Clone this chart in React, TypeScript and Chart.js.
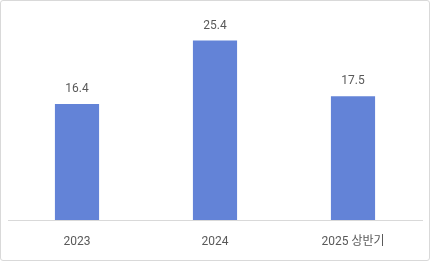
import React, { useEffect, useRef } from "react";
import { Chart, registerables } from "chart.js";

Chart.register(...registerables);

const categories = ["2023", "2024", "2025 상반기"];
const values = [16.4, 25.4, 17.5];
const valueLabels = ["16.4", "25.4", "17.5"];

const FONT = "Roboto, 'Noto Sans CJK KR', sans-serif";

const valueLabelPlugin = {
  id: "valueLabels",
  afterDatasetsDraw(chart: any) {
    const ctx = chart.ctx;
    const meta = chart.getDatasetMeta(0);
    ctx.save();
    ctx.font = `12px ${FONT}`;
    ctx.fillStyle = "#595959";
    ctx.textAlign = "center";
    ctx.textBaseline = "middle";
    meta.data.forEach((bar: any, i: number) => {
      ctx.fillText(valueLabels[i], bar.x, bar.y - 15);
    });
    ctx.restore();
  },
};

export default function App() {
  const ref = useRef<HTMLCanvasElement | null>(null);

  useEffect(() => {
    document.body.style.margin = "0";
    if (!ref.current) return;
    const chart = new Chart(ref.current, {
      type: "bar",
      data: {
        labels: categories,
        datasets: [
          {
            data: values,
            backgroundColor: "#6383d7",
            barPercentage: 0.64,
            categoryPercentage: 0.5,
          },
        ],
      },
      options: {
        animation: false,
        responsive: false,
        maintainAspectRatio: false,
        devicePixelRatio: 1,
        layout: { padding: { left: 7, right: 7, top: 7, bottom: 0 } },
        plugins: {
          legend: { display: false },
          tooltip: { enabled: false },
        },
        scales: {
          x: {
            grid: { display: false, drawTicks: false },
            border: { display: true, color: "#d9d9d9", width: 1 },
            ticks: {
              color: "#595959",
              font: { size: 12, family: FONT },
              padding: 15,
              maxRotation: 0,
            },
            afterFit: (s: any) => {
              s.height = 40;
            },
          },
          y: {
            display: false,
            min: 0,
            max: 30,
          },
        },
      },
      plugins: [valueLabelPlugin],
    });
    return () => chart.destroy();
  }, []);

  return (
    <div
      style={{
        position: "absolute",
        left: 0,
        top: 0,
        width: 430,
        height: 261,
        boxSizing: "border-box",
        border: "1px solid #d9d9d9",
        borderRadius: 3,
        background: "#fff",
        overflow: "hidden",
      }}
    >
      <canvas ref={ref} width={428} height={259} style={{ display: "block" }} />
    </div>
  );
}
